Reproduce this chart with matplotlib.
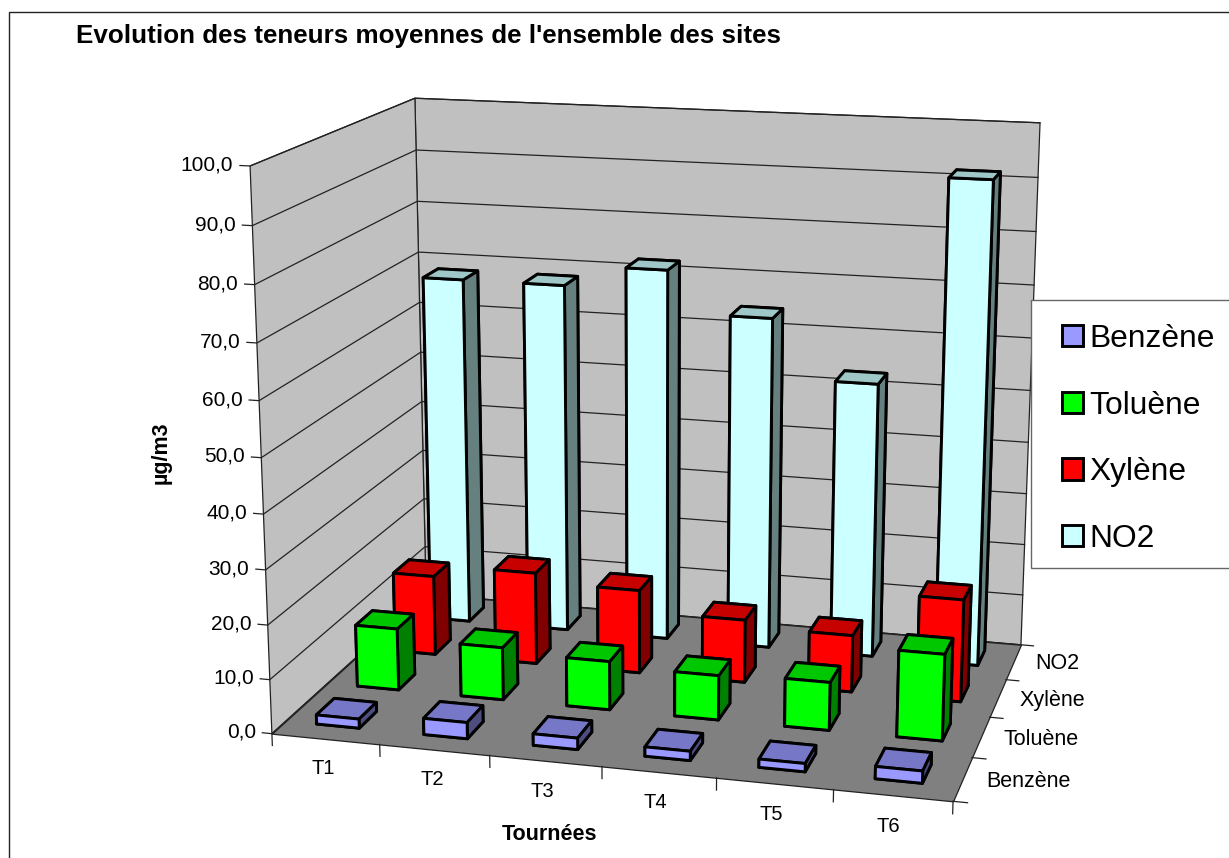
import numpy as np
import matplotlib
matplotlib.use("Agg")
import matplotlib.pyplot as plt
from matplotlib.patches import Patch, Rectangle
from mpl_toolkits.mplot3d import proj3d
from mpl_toolkits.mplot3d.art3d import Poly3DCollection

plt.rcParams['font.family'] = ['Liberation Sans', 'DejaVu Sans']

W, H = 1229, 858

tournees = ['T1', 'T2', 'T3', 'T4', 'T5', 'T6']
polluants = ['Benzène', 'Toluène', 'Xylène', 'NO2']
benzene = [1.7, 3.0, 2.1, 1.7, 1.5, 2.2]
toluene = [11.7, 9.9, 9.1, 8.3, 8.9, 15.9]
xylene = [15.4, 17.7, 16.0, 12.0, 10.8, 19.3]
no2 = [68.0, 68.0, 72.0, 64.0, 52.8, 91.6]
ticks_z = [0, 10, 20, 30, 40, 50, 60, 70, 80, 90, 100]

couleurs = ['#9999FF', '#00FF00', '#FF0000', '#CCFFFF']
series = [benzene, toluene, xylene, no2]

n_x, n_y, z_max = len(tournees), len(polluants), ticks_z[-1]
bar_w, bar_d = 0.40, 0.43
start_x, start_y = 0.29, 0.32

fig = plt.figure(figsize=(W / 100, H / 100), dpi=100, facecolor='white')
# mplot3d keeps its axes square, so make a square one wider than the figure is high
ax = fig.add_axes([0, -(W - H) / 2 / H, 1, W / H], projection='3d', computed_zorder=False)
ax.set_axis_off()
ax.set_xticks([])
ax.set_yticks([])
ax.set_zticks([])
ax.apply_aspect()

# camera calibrated on the box corners seen in the picture (Excel perspective)
corners_3d = [(0, 0, 0), (n_x, 0, 0), (n_x, n_y, 0), (0, n_y, 0),
              (0, 0, z_max), (0, n_y, z_max), (n_x, n_y, z_max)]
corners_px = [(272, 733), (953, 802), (1021, 644), (426, 595),
              (250, 166), (415, 98), (1040, 123)]


def fit_camera():
    px = np.array(corners_px, float)
    px[:, 1] = H - px[:, 1]
    uv = ax.transData.inverted().transform(px)
    rows = []
    for (x, y, z), (u, v) in zip(corners_3d, uv):
        rows.append([x, y, z, 1, 0, 0, 0, 0, -u * x, -u * y, -u * z, -u])
        rows.append([0, 0, 0, 0, x, y, z, 1, -v * x, -v * y, -v * z, -v])
    p = np.linalg.svd(np.array(rows, float))[2][-1].reshape(3, 4)
    if p[2, 3] < 0:
        p = -p
    # depth is -1/w, so that far faces get sorted first
    return np.array([p[0], p[1], [0, 0, 0, -1], p[2]])


M = fit_camera()
ax.get_proj = lambda: M


def label3d(x, y, z, s, **kw):
    # 3D anchor, flat text
    u, v, _ = proj3d.proj_transform(x, y, z, M)
    ax.text2D(u, v, s, transform=ax.transData, va='center', zorder=10, clip_on=False, **kw)


# walls and floor
wall_left = [(0, 0, 0), (0, n_y, 0), (0, n_y, z_max), (0, 0, z_max)]
wall_back = [(0, n_y, 0), (n_x, n_y, 0), (n_x, n_y, z_max), (0, n_y, z_max)]
floor = [(0, 0, 0), (n_x, 0, 0), (n_x, n_y, 0), (0, n_y, 0)]
ax.add_collection3d(Poly3DCollection([wall_left, wall_back], facecolors='#C0C0C0',
                                     edgecolors='#222222', linewidths=0.9, zorder=1))
ax.add_collection3d(Poly3DCollection([floor], facecolors='#808080',
                                     edgecolors='#222222', linewidths=0.9, zorder=1.5))

for v in ticks_z:
    ax.plot([-0.09, 0, 0, n_x], [0, 0, n_y, n_y], [v, v, v, v], color='#222222', lw=0.9, zorder=1.2)
    label3d(-0.15, 0, v, f'{v:.1f}'.replace('.', ','), ha='right', fontsize=15)

for i in range(n_x + 1):
    ax.plot([i, i], [0, 0], [0, -2.2], color='#222222', lw=0.9, zorder=1.6)
for j in range(n_y + 1):
    ax.plot([n_x, n_x + 0.12], [j, j], [0, 0], color='#222222', lw=0.9, zorder=1.6)

for i, name in enumerate(tournees):
    label3d(i + 0.47, 0, -5.6, name, ha='center', fontsize=14.5)
for j, name in enumerate(polluants):
    label3d(n_x + 0.2, j + 0.5, 0, name, ha='left', fontsize=15.5)

# bars, back to front
order = 2
for j in range(n_y - 1, -1, -1):
    rgb = np.array(matplotlib.colors.to_rgb(couleurs[j]))
    # bottom, top, front, back, left, right
    faces = [rgb * 0.5, rgb * 0.78, rgb, rgb, rgb * 0.5, rgb * 0.5]
    for i in range(n_x):
        ax.bar3d(i + start_x, j + start_y, 0, bar_w, bar_d, series[j][i], color=faces,
                 shade=False, edgecolor='black', linewidth=2.1, zorder=order)
        order += 0.01

# chart frame, cut by the picture edges
fig.add_artist(Rectangle((8.5 / W, -0.1), 1.2, 1 + 0.1 - 12 / H, transform=fig.transFigure,
                         facecolor='none', edgecolor='#222222', lw=1.0))

fig.text(76 / W, 1 - 36 / H, "Evolution des teneurs moyennes de l'ensemble des sites",
         fontsize=18.7, fontweight='bold', va='center', ha='left')
fig.text(549 / W, 1 - 835 / H, 'Tournées', fontsize=15.5, fontweight='bold', va='center', ha='center')
fig.text(161 / W, 1 - 453 / H, 'µg/m3', fontsize=15.5, fontweight='bold', va='center', ha='center',
         rotation=90)

# legend box runs past the right edge of the picture
fig.add_artist(Rectangle((1031 / W, 1 - 568 / H), 300 / W, 268 / H, transform=fig.transFigure,
                         facecolor='white', edgecolor='#666666', lw=1.0, zorder=4))
handles = [Patch(facecolor=c, edgecolor='black', linewidth=2.1) for c in couleurs]
leg = fig.legend(handles, polluants, loc='upper left', bbox_to_anchor=(1062 / W, 1 - 324 / H),
                 borderaxespad=0, borderpad=0, fontsize=22.9, frameon=False,
                 handlelength=0.65, handleheight=0.65, handletextpad=0.22, labelspacing=1.15)
leg.set_zorder(5)

fig.savefig('out.png', dpi=100)
